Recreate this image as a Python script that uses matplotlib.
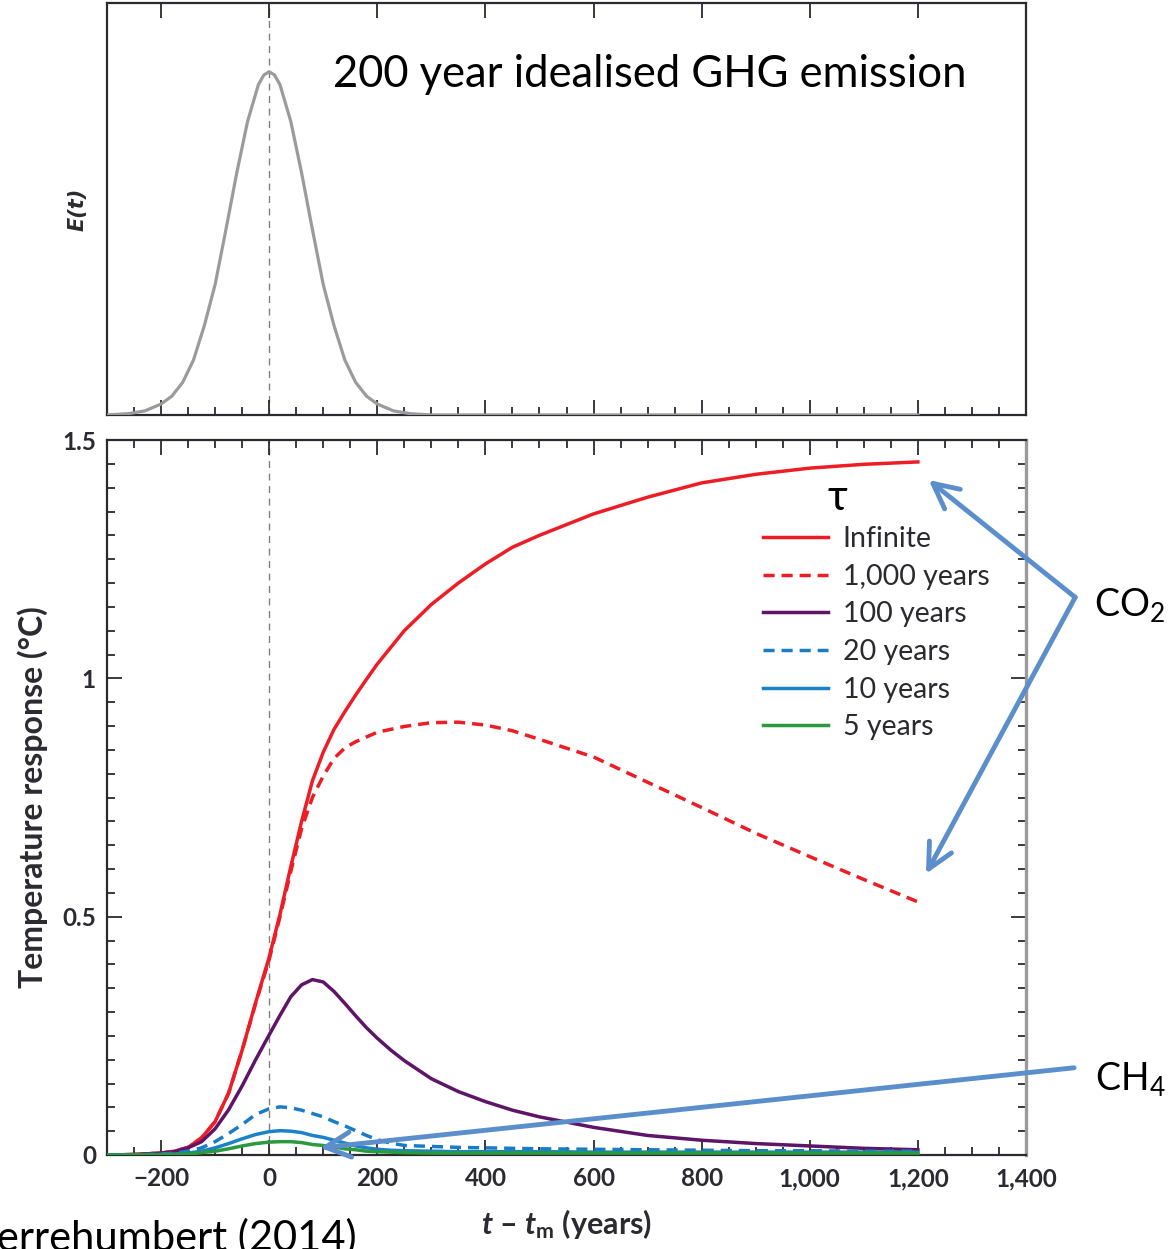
import matplotlib
matplotlib.use("Agg")
import matplotlib.pyplot as plt
from matplotlib.ticker import MultipleLocator, FixedLocator, FixedFormatter

plt.rcParams['font.family'] = ['Lato', 'DejaVu Sans']
plt.rcParams['mathtext.fontset'] = 'custom'
plt.rcParams['mathtext.rm'] = 'Lato'
plt.rcParams['mathtext.it'] = 'Lato:italic:bold'
plt.rcParams['mathtext.bf'] = 'Lato:bold'

W, H = 1174, 1249

# emission pulse (arbitrary units, peak = 1)
e_years = [-300, -260, -230, -200, -180, -160, -140, -120, -100, -80, -60, -40, -20, -10, 0,
           10, 20, 40, 60, 80, 100, 120, 140, 160, 180, 200, 230, 260, 300, 1200]
emission = [0.0, 0.004, 0.012, 0.032, 0.055, 0.095, 0.16, 0.26, 0.38, 0.54, 0.705, 0.855, 0.962, 0.99, 1.0,
            0.99, 0.962, 0.855, 0.705, 0.54, 0.38, 0.26, 0.16, 0.095, 0.055, 0.032, 0.012, 0.004, 0.0, 0.0]

# temperature response (deg C)
years = [-300, -250, -200, -175, -150, -125, -100, -75, -50, -25, 0, 20, 40, 60, 80, 100,
         120, 140, 160, 180, 200, 225, 250, 300, 350, 400, 450, 500, 600, 700, 800, 900, 1000, 1100, 1200]
t_inf = [0.0, 0.001, 0.004, 0.008, 0.016, 0.036, 0.07, 0.13, 0.22, 0.32, 0.415, 0.505, 0.605, 0.70, 0.785, 0.845,
         0.893, 0.93, 0.965, 0.998, 1.03, 1.065, 1.10, 1.155, 1.20, 1.24, 1.275, 1.30, 1.345, 1.38, 1.41, 1.428, 1.441, 1.449, 1.454]
t_1000 = [0.0, 0.001, 0.004, 0.008, 0.016, 0.036, 0.07, 0.13, 0.22, 0.318, 0.41, 0.50, 0.595, 0.685, 0.75, 0.795,
          0.832, 0.854, 0.867, 0.877, 0.887, 0.893, 0.899, 0.907, 0.908, 0.902, 0.89, 0.872, 0.835, 0.782, 0.729, 0.675, 0.626, 0.578, 0.531]
t_100 = [0.0, 0.001, 0.004, 0.007, 0.015, 0.028, 0.055, 0.095, 0.145, 0.20, 0.252, 0.293, 0.332, 0.357, 0.368, 0.363,
         0.343, 0.318, 0.292, 0.267, 0.245, 0.22, 0.198, 0.16, 0.133, 0.112, 0.094, 0.080, 0.058, 0.041, 0.031, 0.024, 0.019, 0.014, 0.011]
t_20 = [0.0, 0.0005, 0.002, 0.004, 0.008, 0.015, 0.028, 0.045, 0.064, 0.085, 0.097, 0.101, 0.099, 0.094, 0.087, 0.08,
        0.07, 0.061, 0.051, 0.041, 0.032, 0.025, 0.02, 0.018, 0.016, 0.015, 0.014, 0.013, 0.012, 0.011, 0.010, 0.009, 0.009, 0.008, 0.008]
t_10 = [0.0, 0.0003, 0.001, 0.002, 0.004, 0.008, 0.015, 0.024, 0.034, 0.043, 0.049, 0.051, 0.05, 0.047, 0.041, 0.037,
        0.031, 0.025, 0.019, 0.015, 0.012, 0.01, 0.009, 0.008, 0.007, 0.007, 0.007, 0.007, 0.006, 0.006, 0.006, 0.006, 0.006, 0.006, 0.006]
t_5 = [0.0, 0.0002, 0.001, 0.001, 0.002, 0.005, 0.008, 0.013, 0.019, 0.024, 0.027, 0.028, 0.028, 0.026, 0.022, 0.02,
       0.017, 0.013, 0.011, 0.008, 0.007, 0.006, 0.005, 0.004, 0.004, 0.004, 0.004, 0.004, 0.004, 0.004, 0.004, 0.004, 0.004, 0.004, 0.004]

labels = ['Infinite', '1,000 years', '100 years', '20 years', '10 years', '5 years']
colors = ['#ee1c25', '#ee1c25', '#5e1467', '#1a7cc4', '#1a82c8', '#2a9a3e']
styles = ['-', (0, (3.2, 2.0)), '-', (0, (3.2, 2.0)), '-', '-']

x_major = [-200, 0, 200, 400, 600, 800, 1000, 1200, 1400]
x_labels = ['\u2212200', '0', '200', '400', '600', '800', '1,000', '1,200', '1,400']
y_major = [0, 0.5, 1, 1.5]
y_labels = ['0', '0.5', '1', '1.5']

dark = '#2a2a30'


def fx(px):
    return px / W


def fy(py):
    return 1 - py / H


fig = plt.figure(figsize=(W / 100, H / 100), dpi=100)
ax1 = fig.add_axes([fx(107), fy(415), fx(1026) - fx(107), fy(3) - fy(415)])
ax2 = fig.add_axes([fx(107), fy(1155), fx(1026) - fx(107), fy(440) - fy(1155)])

for ax in (ax1, ax2):
    ax.set_xlim(-300, 1400)
    ax.xaxis.set_major_locator(FixedLocator(x_major))
    ax.xaxis.set_minor_locator(MultipleLocator(50))
    ax.tick_params(axis='both', which='both', direction='in', colors=dark, width=1.3)
    ax.tick_params(axis='both', which='major', length=11)
    ax.tick_params(axis='both', which='minor', length=5.5)
    for s in ax.spines.values():
        s.set_color(dark)
        s.set_linewidth(1.6)
    ax.axvline(0, color='#808080', lw=1.0, ls=(0, (5, 4)), zorder=1)

# top panel: emission pulse
ax1.plot(e_years, emission, color='#9b9b9b', lw=2.3, zorder=3, solid_joinstyle='round')
ax1.set_ylim(0, 1.2)
ax1.tick_params(axis='x', top=True, bottom=True, labelbottom=False)
ax1.tick_params(axis='y', left=False, right=False, labelleft=False)
ax1.set_ylabel('E(t)', fontsize=15, fontweight='bold', fontstyle='italic', color=dark,
               labelpad=14, family='DejaVu Sans')

# bottom panel: temperature response
for vals, lab, c, ls in zip([t_inf, t_1000, t_100, t_20, t_10, t_5], labels, colors, styles):
    ax2.plot(years, vals, color=c, ls=ls, lw=2.5, label=lab, zorder=3, solid_joinstyle='round')

ax2.set_ylim(0, 1.5)
ax2.yaxis.set_major_locator(FixedLocator(y_major))
ax2.yaxis.set_major_formatter(FixedFormatter(y_labels))
ax2.yaxis.set_minor_locator(MultipleLocator(0.05))
ax2.xaxis.set_major_formatter(FixedFormatter(x_labels))
ax2.tick_params(axis='both', which='both', top=True, right=True)
ax2.tick_params(axis='both', which='major', labelsize=17.5, labelcolor=dark)
ax2.tick_params(axis='x', which='major', pad=9)
ax2.tick_params(axis='y', which='major', pad=8)
for lab in ax2.get_xticklabels() + ax2.get_yticklabels():
    lab.set_fontweight('bold')
ax2.spines['right'].set_color('#9a9a9a')
ax2.spines['right'].set_linewidth(2.4)
ax2.set_xlabel('$t$ \u2013 $t_{\\mathbf{m}}$ (years)', fontsize=22, fontweight='bold',
               color=dark, labelpad=12)
ax2.set_ylabel('Temperature response (\u00b0C)', fontsize=23, fontweight='bold',
               color=dark, labelpad=10)

ax2.legend(loc='upper left', bbox_to_anchor=(fx(763), fy(526)), bbox_transform=fig.transFigure,
           frameon=False, fontsize=20.5, handlelength=2.3, handletextpad=0.5,
           labelspacing=0.41, borderpad=0, borderaxespad=0, labelcolor=dark)

# annotations
fig.text(fx(333), fy(87), '200 year idealised GHG emission', fontsize=31.4, va='baseline')
fig.text(fx(828), fy(510), '\u03c4', fontsize=31, va='baseline')
fig.text(fx(1094), fy(616), 'CO$_2$', fontsize=27, va='baseline')
fig.text(fx(1095), fy(1090), 'CH$_4$', fontsize=27, va='baseline')
fig.text(fx(357), fy(1251), 'Pierrehumbert (2014)', fontsize=30, va='baseline', ha='right')

arrow = dict(arrowstyle='->,head_length=0.6,head_width=0.3', color='#5b8fcb', lw=3.5,
             mutation_scale=30, shrinkA=0, shrinkB=0)
ax2.annotate('', xy=(1220, 1.416), xytext=(1491, 1.17), arrowprops=arrow, annotation_clip=False)
ax2.annotate('', xy=(1215, 0.59), xytext=(1491, 1.17), arrowprops=arrow, annotation_clip=False)
ax2.annotate('', xy=(94, 0.015), xytext=(1489, 0.183), arrowprops=arrow, annotation_clip=False)

fig.savefig('out.png', dpi=100)
